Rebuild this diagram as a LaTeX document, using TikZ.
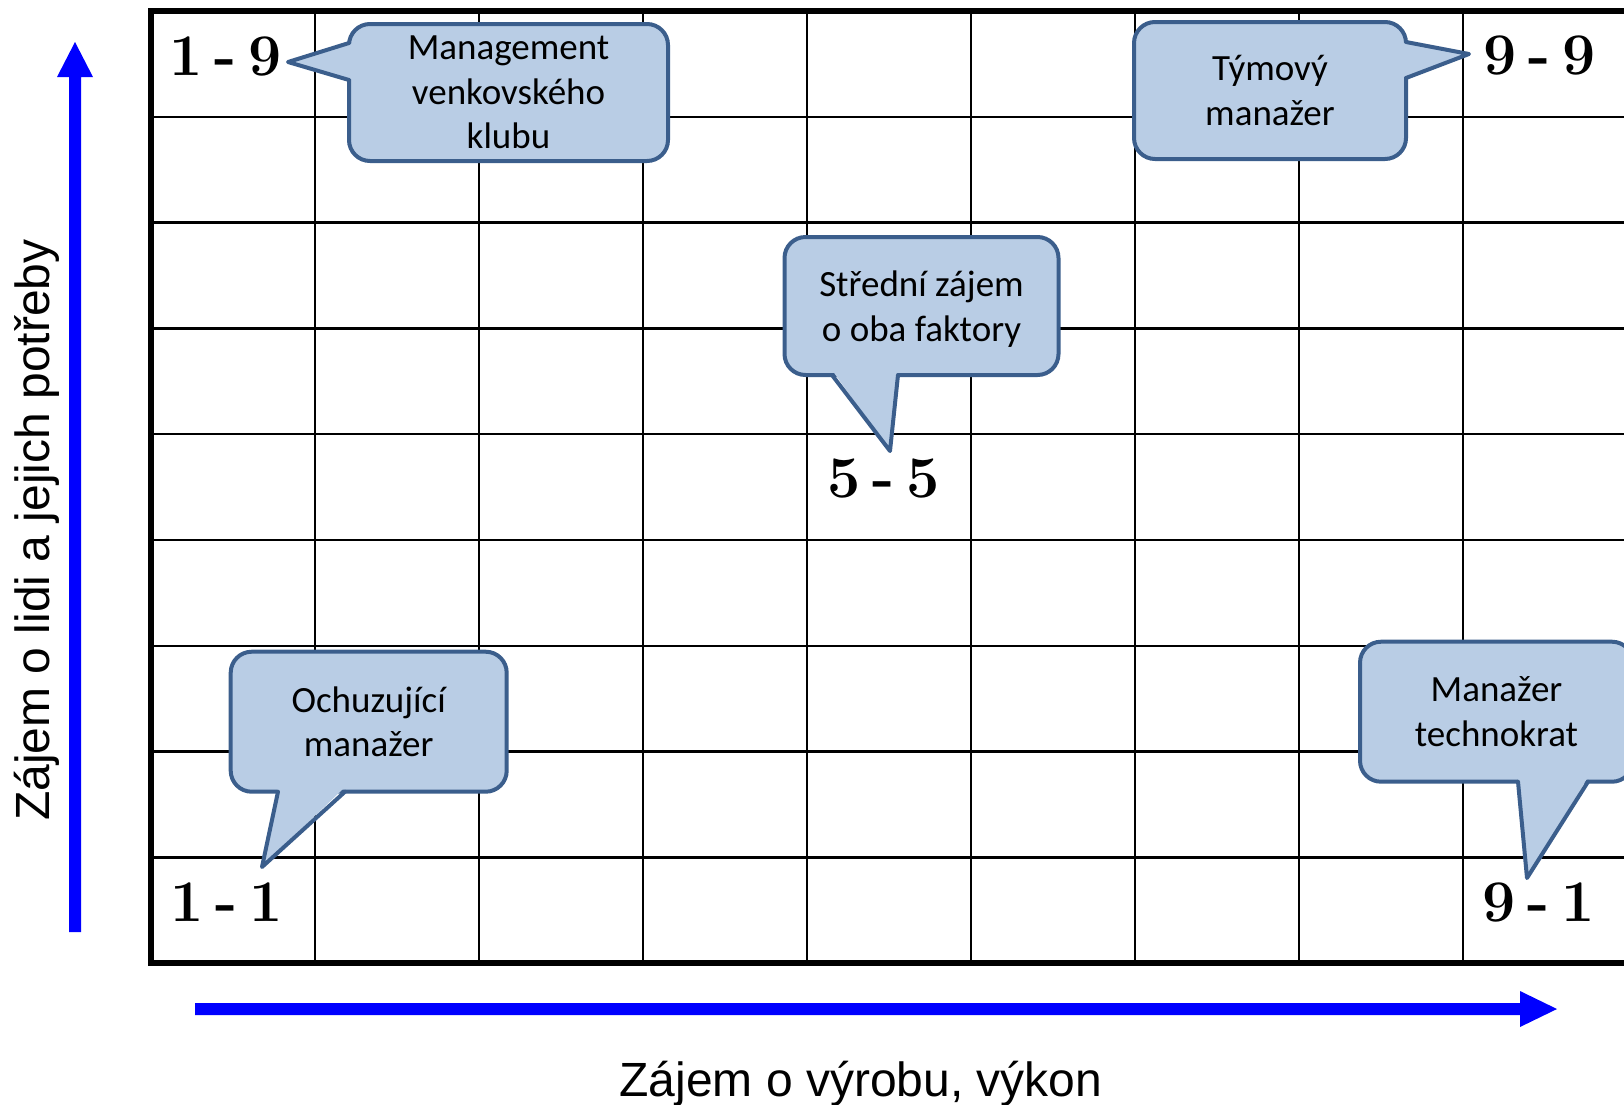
\documentclass[tikz,border=0pt]{standalone}
\usepackage{fontspec}
\newfontfamily\carlito{Carlito}
\newfontfamily\arialf{Liberation Sans}
\definecolor{bubfill}{HTML}{B9CDE5}
\definecolor{bubline}{HTML}{3B5E8C}
\definecolor{axisblue}{HTML}{0000FF}
\tikzset{
 thinline/.style={line width=2.5pt, black},
 thickline/.style={line width=5.5pt, black, line join=miter},
 bubbox/.style={fill=bubfill, draw=bubline, line width=4pt, rounded corners=21pt,
   font=\carlito\fontsize{37}{44.5}\selectfont, align=center, inner sep=0pt},
 bubtip/.style={draw=bubline, line width=4pt, line join=round, line cap=round},
 cornerlab/.style={font=\bfseries\fontsize{59}{70}\selectfont, anchor=base west, inner sep=0pt},
 axislabel/.style={font=\arialf\fontsize{48}{58}\selectfont, inner sep=0pt, anchor=base},
}
\newcommand{\gp}{\hspace{0.2em}}
\begin{document}
\begin{tikzpicture}[x=1pt,y=-1pt]
\useasboundingbox (0,0) rectangle (1624,1104);
% grid
\foreach \i in {1,...,9} \draw[thinline] (151+164*\i,11) -- (151+164*\i,963);
\foreach \j in {1,...,8} \draw[thinline] (151,11+105.8*\j) -- (1630,11+105.8*\j);
\draw[thickline] (1630,11) -- (151,11) -- (151,963) -- (1630,963);

% axis arrows
\fill[axisblue] (69,932) -- (69,77) -- (57,77) -- (75,42) -- (93,77) -- (81,77) -- (81,932) -- cycle;
\fill[axisblue] (195,1003) -- (1520,1003) -- (1520,991) -- (1557,1009) -- (1520,1027) -- (1520,1015) -- (195,1015) -- cycle;

% bubble 1
\node[bubbox, minimum width=319pt, minimum height=137pt] (mgmt) at (508.5,92.5) {Management\\venkovského\\klubu};
\coordinate (mgmttip) at (288,62);
\fill[bubfill] (354,43) -- (mgmttip) -- (354,80) -- cycle;
\draw[bubtip] (349,43) -- (mgmttip) -- (349,80);

% bubble 2
\node[bubbox, minimum width=272pt, minimum height=137pt] (team) at (1270,90.5) {Týmový\\manažer};
\coordinate (teamtip) at (1469,54);
\fill[bubfill] (1401,42) -- (teamtip) -- (1401,78) -- cycle;
\draw[bubtip] (1406,42) -- (teamtip) -- (1406,78);

% bubble middle
\node[bubbox, minimum width=274pt, minimum height=138pt] (mid) at (921.5,306) {\rule{0pt}{32pt}Střední zájem\\o oba faktory};
\coordinate (midtip) at (890,451);
\fill[bubfill] (832,370) -- (midtip) -- (898,370) -- cycle;
\draw[bubtip] (832,375) -- (midtip) -- (898,375);

% bubble 3
\node[bubbox, minimum width=276pt, minimum height=140pt] (poor) at (368.7,721.7) {Ochuzující\\manažer};
\coordinate (poortip) at (262,867);
\fill[bubfill] (278,787) -- (poortip) -- (345,787) -- cycle;
\draw[bubtip] (278,791.7) -- (poortip) -- (345,791.7);

% bubble 4
\node[bubbox, minimum width=273pt, minimum height=140pt] (tech) at (1496.5,711.7) {Manažer\\technokrat};
\coordinate (techtip) at (1527,878);
\fill[bubfill] (1518,777) -- (techtip) -- (1588,777) -- cycle;
\draw[bubtip] (1518,781.7) -- (techtip) -- (1588,781.7);

% corner labels
\node[cornerlab] (c19) at (169,75) {1\gp-\gp9};
\node[cornerlab] (c99) at (1483,74.5) {9\gp-\gp9};
\node[cornerlab] (c55) at (827,497) {5\gp-\gp5};
\node[cornerlab] (c11) at (170,921.7) {1\gp-\gp1};
\node[cornerlab] (c91) at (1482,921.7) {9\gp-\gp1};

% axis labels
\node[axislabel] (xlab) at (861,1096) {Zájem o výrobu, výkon};
\node[axislabel, rotate=90] (ylab) at (49,530) {Zájem o lidi a jejich potřeby};
\end{tikzpicture}
\end{document}
